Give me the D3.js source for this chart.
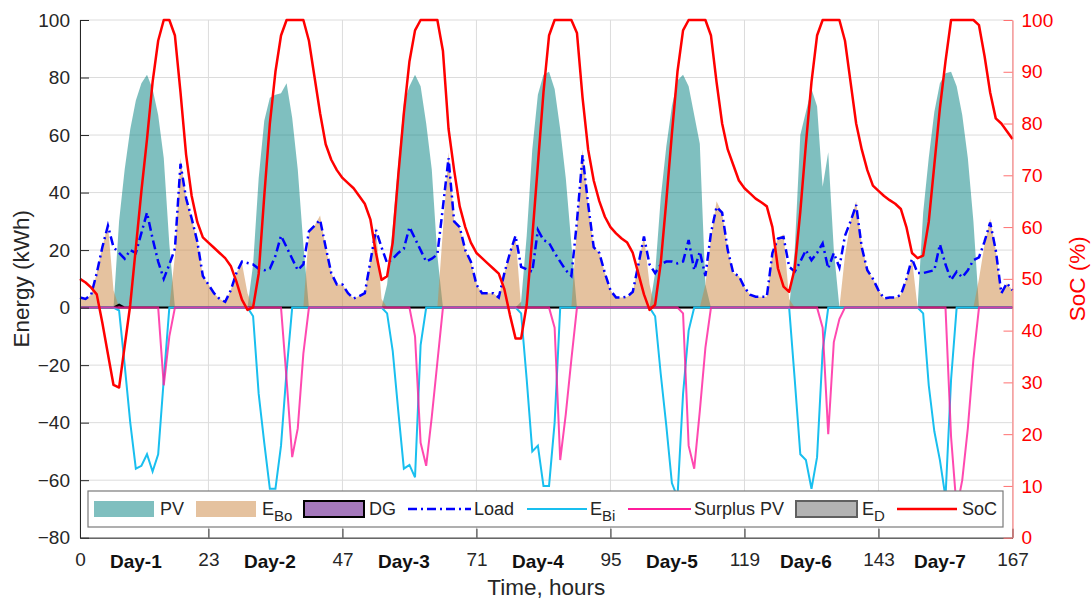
<!DOCTYPE html>
<html lang="en">
<head>
<meta charset="UTF-8">
<title>Hybrid system energy flow and battery SoC</title>
<script src="https://d3js.org/d3.v7.min.js"></script>
<style>
  body { margin: 0; background: #fff; }
  svg text { font-family: Arial, "Liberation Sans", Helvetica, sans-serif; }
  .grid line { stroke: #dcdcdc; stroke-width: 1; }
</style>
</head>
<body>
<div id="chart"></div>
<script>
// hourly values, hour 0..167 (7 days)
const pv = [
  0,0,0,0,0,0,0,30,48,62,72,78,81,76,67,52,22,0,0,0,0,0,0,0,
  0,0,0,0,0,0,0,15,45,65,73,74,74.5,78,66,48,22,0,0,0,0,0,0,0,
  0,0,0,0,0,0,0,8,28,50,71,77,81,77,64,48,18,0,0,0,0,0,0,0,
  0,0,0,0,0,0,0,2,25,55,74,81,82,76,62,45,22,0,0,0,0,0,0,0,
  0,0,0,0,0,0,0,12,38,56,70,79,81,77,67,57,8,0,0,0,0,0,0,0,
  0,0,0,0,0,0,0,0,20,60,68,76,70,42,54,20,0,0,0,0,0,0,0,0,
  0,0,0,0,0,0,0,33,52,68,78,81.5,82,77,67,52,30,0,0,0,0,0,0,0
];
const eBo = [
  3.5,3,4.5,12,21,29,6,0,0,0,0,0,0,0,0,0,0,18,52,38,31,23,11,8,
  5,3,2,6,12,15.5,5,0,0,0,0,0,0,0,0,0,0,26,28.5,32,21,12,8,8,
  5,3.2,4,5,16,28,3,0,0,0,0,0,0,0,0,0,0,27,54,30,28,20,16,8,
  5,5,5,3.5,12,19,25,0,0,0,0,0,0,0,0,0,0,28,55,36,21,19,12,6,
  3.5,3.5,3.8,5.5,15,25,8,0,0,0,0,0,0,0,0,0,8,24,37,33,20,12,11,7,
  4.5,3.8,3.8,3.8,19,24,25.5,3,0,0,0,0,0,0,0,0,0,18,30,37,22,13,10,6,
  3.2,3.5,3.5,4.4,10,17,0,0,0,0,0,0,0,0,0,0,0,10,22,31,20,5,8.5,6
];
const dg = [
  0,0,0,0,0,0,0,1,0,0,0,0,0,0,0,0,0,0,0,0,0,0,0,0,
  0,0,0,0,0,0,0,0,0,0,0,0,0,0,0,0,0,0,0,0,0,0,0,0,
  0,0,0,0,0,0,0,0,0,0,0,0,0,0,0,0,0,0,0,0,0,0,0,0,
  0,0,0,0,0,0,0,0,0,0,0,0,0,0,0,0,0,0,0,0,0,0,0,0,
  0,0,0,0,0,0,0,0,0,0,0,0,0,0,0,0,0,0,0,0,0,0,0,0,
  0,0,0,0,0,0,0,0,0,0,0,0,0,0,0,0,0,0,0,0,0,0,0,0,
  0,0,0,0,0,0,0,0,0,0,0,0,0,0,0,0,0,0,0,0,0,0,0,0
];
const eD = [
  0,0,0,0,0,0,0,0,0,0,0,0,0,0,0,0,0,0,0,0,0,0,0,0,
  0,0,0,0,0,0,0,0,0,0,0,0,0,0,0,0,0,0,0,0,0,0,0,0,
  0,0,0,0,0,0,0,0,0,0,0,0,0,0,0,0,0,0,0,0,0,0,0,0,
  0,0,0,0,0,0,0,0,0,0,0,0,0,0,0,0,0,0,0,0,0,0,0,0,
  0,0,0,0,0,0,0,0,0,0,0,0,0,0,0,0,0,0,0,0,0,0,0,0,
  0,0,0,0,0,0,0,0,0,0,0,0,0,0,0,0,0,0,0,0,0,0,0,0,
  0,0,0,0,0,0,0,0,0,0,0,0,0,0,0,0,0,0,0,0,0,0,0,0
];
const load = [
  3.5,3,4.5,12,21,28.5,21,19,17,20,19,26,33,24,16,10,15,20.5,50,38,31,23,11,8,
  5,3,2,6,12,16,15.5,15,13.5,13,13.5,18,25,21,17,13,15,26.5,28.5,30.5,21,12,8,8,
  5,3.2,4,5,16,27,21,15.5,17,19,20.5,28,24,20,16,17,18.5,35,52,30,28,20,16,8,
  5,5,5,3.5,12,19,25,14.2,13.3,12.5,27,23.5,22.5,19,16,13,11,30,53,36,21,19,12,6,
  3.5,3.5,3.8,5.5,15,24.7,15,12,15,16,16,15.4,16,23.5,13,19.5,11,26,35,33,20,12,11,7,
  4.5,3.8,3.8,3.8,19,24,24.5,14.2,12.5,16,20,16.5,19,22.3,13.6,19,14,25,30,35.7,21,13,10,6,
  3.2,3.5,3.5,4.4,10,17,12,12,12.5,13,22,15,9.6,12.5,10.5,13,16.5,17.5,23,29.6,20,5,8.5,6
];
const eBi = [
  0,0,0,0,0,0,0,-1,-20,-40,-56,-55,-51,-57,-51,-25,0,0,0,0,0,0,0,0,
  0,0,0,0,0,0,0,-3,-30,-47,-63,-63,-48,-22,0,0,0,0,0,0,0,0,0,0,
  0,0,0,0,0,0,0,-2,-15,-36,-56,-54.7,-59,-13,0,0,0,0,0,0,0,0,0,0,
  0,0,0,0,0,0,0,-2,-25,-50,-48,-62,-62,-40,0,0,0,0,0,0,0,0,0,0,
  0,0,0,0,0,0,0,-3,-23,-41,-61,-66,-30,-8,0,0,0,0,0,0,0,0,0,0,
  0,0,0,0,0,0,0,0,-25,-51,-53,-63,-52,-15,0,0,0,0,0,0,0,0,0,0,
  0,0,0,0,0,0,0,-2,-27,-43,-53,-66,-25,0,0,0,0,0,0,0,0,0,0,0
];
const surplusPv = [
  0,0,0,0,0,0,0,0,0,0,0,0,0,0,0,-27,-10,0,0,0,0,0,0,0,
  0,0,0,0,0,0,0,0,0,0,0,0,0,-25,-52,-42,-16,0,0,0,0,0,0,0,
  0,0,0,0,0,0,0,0,0,0,0,0,-10,-47,-55,-38,-19,0,0,0,0,0,0,0,
  0,0,0,0,0,0,0,0,0,0,0,0,0,-7,-53,-37,-18,0,0,0,0,0,0,0,
  0,0,0,0,0,0,0,0,0,0,0,0,-2,-48,-56,-36,-14,0,0,0,0,0,0,0,
  0,0,0,0,0,0,0,0,0,0,0,0,0,-7,-44,-12,-4,0,0,0,0,0,0,0,
  0,0,0,0,0,0,0,0,0,0,0,0,-45,-70,-60,-42,-18,0,0,0,0,0,0,0
];
const soc = [
  50,49.3,48.3,47,41.5,35.5,29.5,29,37,45,56,67,77,88,96,100,100,97,86,74,66,61,58,57,
  56,55,54,52.5,49.5,46,44,44.5,51,66,80,90,97,100,100,100,100,96,89,82,76,73,71,69.5,
  68.5,67.5,66,64.5,61.5,55,49.8,50.5,57,70,82,92,98,100,100,100,100,94,79,71,64,60,57,55,
  54,53,52,51,48,43,38.5,38.5,45,58,72,86,97,100,100,100,100,97.5,85,75,69,65,62,60,
  58.8,57.8,57,55,51,47,44,45,53,65,78,90,98,100,100,100,100,97,88,80,75,72,69,67.5,
  66.5,65.5,64.8,64,60,52,48.5,47.5,52,63,76,88,97,100,100,100,100,96,88,80,75,71,68,67,
  66,65.2,64.5,63.5,60,55,54,54.5,61,72,83,92,100,100,100,100,100,99,93,86,81,80,78.5,77
];
const hourTicks = [0, 23, 47, 71, 95, 119, 143, 167];
const dayNames = ["Day-1", "Day-2", "Day-3", "Day-4", "Day-5", "Day-6", "Day-7"];
const dayAt = [10, 34, 58, 82, 106, 130, 154];
const energyTicks = [-80, -60, -40, -20, 0, 20, 40, 60, 80, 100];
const socTicks = [0, 10, 20, 30, 40, 50, 60, 70, 80, 90, 100];

const W = 1092, H = 599;
const mL = 80, mR = 1012.5, mT = 20, mB = 537.7;

const svg = d3.select('#chart').append('svg')
  .attr('width', W).attr('height', H);

const x = d3.scaleLinear().domain([0, 167]).range([mL, mR]);
const y = d3.scaleLinear().domain([-80, 100]).range([mB, mT]);
const yS = d3.scaleLinear().domain([0, 100]).range([mB, mT]);

// grid
const grid = svg.append('g').attr('class', 'grid');
grid.selectAll('.gy').data(energyTicks).enter().append('line')
  .attr('x1', mL).attr('x2', mR)
  .attr('y1', d => y(d)).attr('y2', d => y(d));
grid.selectAll('.gx').data(hourTicks).enter().append('line')
  .attr('x1', d => x(d)).attr('x2', d => x(d))
  .attr('y1', mT).attr('y2', mB);

// areas
function areaOf(vals) {
  return d3.area().x((d, i) => x(i)).y0(y(0)).y1(d => y(d))(vals);
}
svg.append('path').attr('d', areaOf(pv)).attr('fill', '#008080').attr('fill-opacity', 0.5);
svg.append('path').attr('d', areaOf(eBo)).attr('fill', '#cb853f').attr('fill-opacity', 0.5);
svg.append('path').attr('d', areaOf(eD)).attr('fill', '#808080').attr('fill-opacity', 0.6)
  .attr('stroke', '#606060').attr('stroke-width', 1);
svg.append('path').attr('d', areaOf(dg)).attr('fill', '#7e3f9e').attr('fill-opacity', 0.7)
  .attr('stroke', '#000').attr('stroke-width', 2);

// lines
function lineOf(vals, sc) {
  return d3.line().x((d, i) => x(i)).y(d => sc(d))(vals);
}
svg.append('path').attr('d', lineOf(eBi, y)).attr('fill', 'none')
  .attr('stroke', '#19bfef').attr('stroke-width', 2);
svg.append('path').attr('d', lineOf(surplusPv, y)).attr('fill', 'none')
  .attr('stroke', '#ff1c9c').attr('stroke-width', 2).attr('stroke-opacity', 0.8);
svg.append('path').attr('d', lineOf(load, y)).attr('fill', 'none')
  .attr('stroke', '#0000ff').attr('stroke-width', 2.5)
  .attr('stroke-dasharray', '9,4,2,4');
svg.append('path').attr('d', lineOf(soc, yS)).attr('fill', 'none')
  .attr('stroke', '#ff0000').attr('stroke-width', 2.5).attr('stroke-linejoin', 'round');

// axes
const axL = svg.append('g').attr('transform', `translate(${mL},0)`)
  .call(d3.axisLeft(y).tickValues(energyTicks).tickSizeInner(-9).tickSizeOuter(0).tickPadding(10));
axL.select('.domain').attr('stroke', '#262626');
axL.selectAll('.tick line').attr('stroke', '#262626');
axL.selectAll('text').attr('font-size', 19).attr('fill', '#262626');

const axB = svg.append('g').attr('transform', `translate(0,${mB})`)
  .call(d3.axisBottom(x).tickValues(hourTicks).tickSizeInner(-9).tickSizeOuter(0).tickPadding(15));
axB.select('.domain').attr('stroke', '#262626');
axB.selectAll('.tick line').attr('stroke', '#262626');
axB.selectAll('text').attr('font-size', 19).attr('fill', '#262626');

svg.append('g').selectAll('text').data(dayNames).enter().append('text')
  .attr('x', (d, i) => x(dayAt[i])).attr('y', 568)
  .attr('text-anchor', 'middle').attr('font-size', 19).attr('font-weight', 'bold')
  .attr('fill', '#111').text(d => d);

const axR = svg.append('g').attr('transform', `translate(${mR},0)`)
  .call(d3.axisRight(yS).tickValues(socTicks).tickSizeInner(-9).tickSizeOuter(0).tickPadding(9));
axR.select('.domain').attr('stroke', '#ff7070');
axR.selectAll('.tick line').attr('stroke', '#ff7070');
axR.selectAll('text').attr('font-size', 19).attr('fill', '#ff0000');

// axis titles
svg.append('text').attr('x', (mL + mR) / 2).attr('y', 595)
  .attr('text-anchor', 'middle').attr('font-size', 22.5).attr('fill', '#262626')
  .text('Time, hours');
svg.append('text').attr('transform', `translate(29,${(mT + mB) / 2}) rotate(-90)`)
  .attr('text-anchor', 'middle').attr('font-size', 22.5).attr('fill', '#262626')
  .text('Energy (kWh)');
svg.append('text').attr('transform', `translate(1085,${(mT + mB) / 2}) rotate(-90)`)
  .attr('text-anchor', 'middle').attr('font-size', 22.5).attr('fill', '#ff0000')
  .text('SoC (%)');

// legend
const legend = svg.append('g');
legend.append('rect').attr('x', 88).attr('y', 491).attr('width', 915).attr('height', 36)
  .attr('fill', '#fff').attr('stroke', '#7a7a7a').attr('stroke-width', 1.2);
const items = [
  { kind: 'patch', x0: 94, x1: 154, fill: '#008080', op: 0.5, stroke: 'none', tx: 160, name: 'PV' },
  { kind: 'patch', x0: 196, x1: 256, fill: '#cb853f', op: 0.5, stroke: 'none', tx: 262, name: 'E', sub: 'Bo' },
  { kind: 'patch', x0: 304, x1: 364, fill: '#7e3f9e', op: 0.7, stroke: '#000', tx: 369, name: 'DG' },
  { kind: 'line', x0: 408, x1: 471, color: '#0000ff', dash: '9,4,2,4', w: 2.5, tx: 474, name: 'Load' },
  { kind: 'line', x0: 527, x1: 587, color: '#19bfef', w: 2, tx: 590, name: 'E', sub: 'Bi' },
  { kind: 'line', x0: 628, x1: 691, color: '#ff1c9c', w: 2, tx: 694, name: 'Surplus PV' },
  { kind: 'patch', x0: 796, x1: 857, fill: '#808080', op: 0.6, stroke: '#606060', tx: 862, name: 'E', sub: 'D' },
  { kind: 'line', x0: 897, x1: 957, color: '#ff0000', w: 2.5, tx: 962, name: 'SoC' }
];
items.forEach(it => {
  if (it.kind === 'patch') {
    legend.append('rect').attr('x', it.x0).attr('y', 501).attr('width', it.x1 - it.x0).attr('height', 16)
      .attr('fill', it.fill).attr('fill-opacity', it.op)
      .attr('stroke', it.stroke).attr('stroke-width', 2);
  } else {
    legend.append('line').attr('x1', it.x0).attr('x2', it.x1).attr('y1', 509).attr('y2', 509)
      .attr('stroke', it.color).attr('stroke-width', it.w)
      .attr('stroke-dasharray', it.dash || null);
  }
  const t = legend.append('text').attr('x', it.tx).attr('y', 515)
    .attr('font-size', 18).attr('fill', '#262626');
  t.append('tspan').text(it.name);
  if (it.sub) t.append('tspan').attr('dy', 6).attr('font-size', 15).text(it.sub);
});
</script>
</body>
</html>
